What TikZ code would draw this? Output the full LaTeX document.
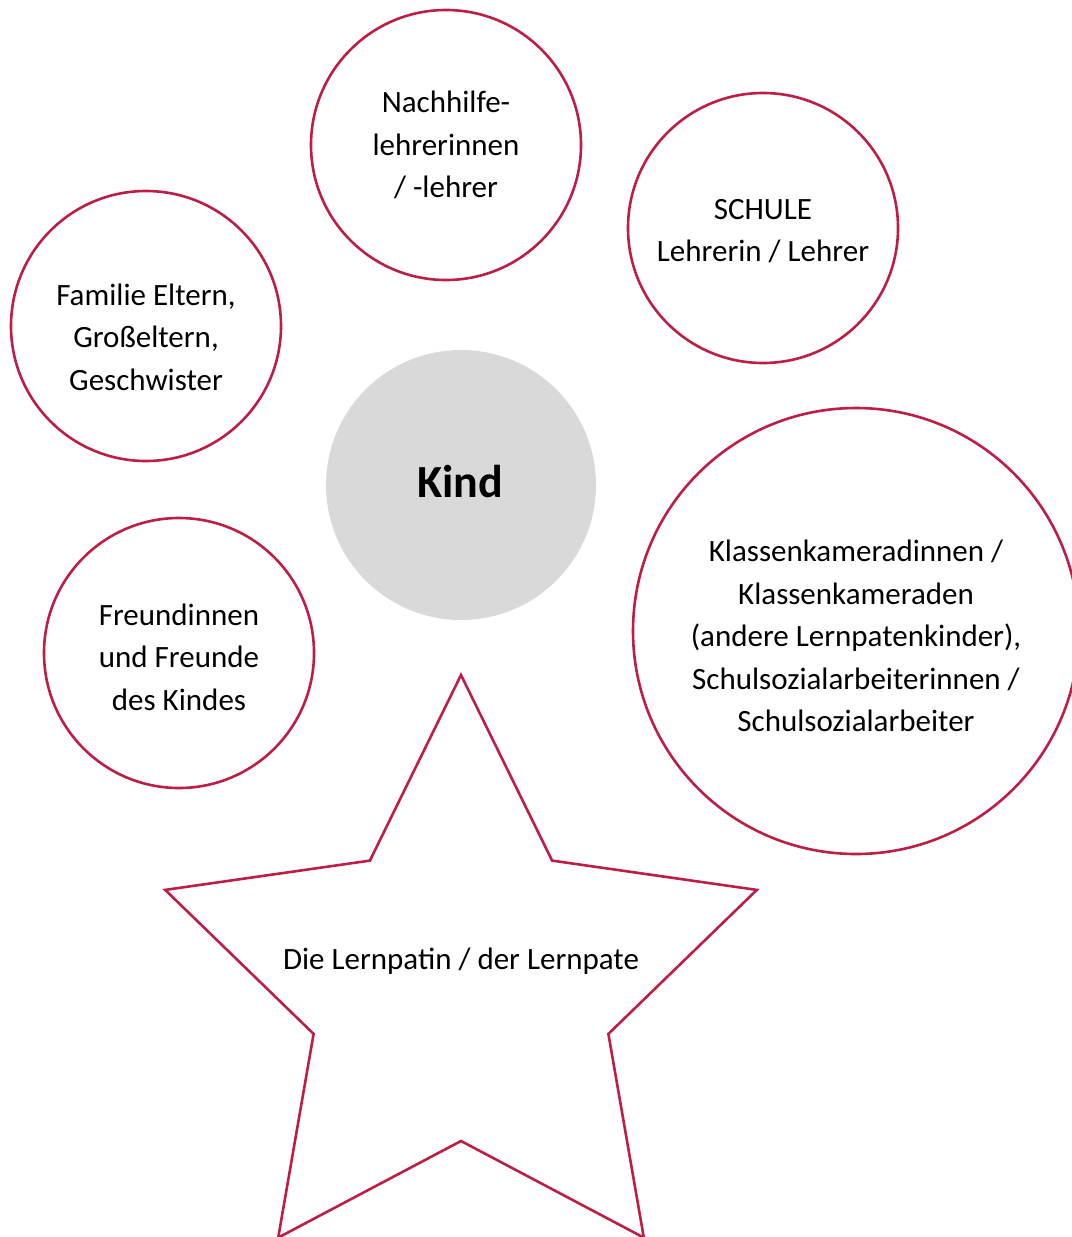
\documentclass[tikz,border=0pt]{standalone}
\usepackage{fontspec}
\setmainfont{Carlito}
\definecolor{crim}{RGB}{190,30,70}
\definecolor{kindgray}{RGB}{217,217,217}
\begin{document}
\begin{tikzpicture}[x=1pt,y=-1pt,
  ring/.style={circle,draw=crim,line width=2.6pt,inner sep=0pt,minimum size=#1},
  lbl/.style={align=center,inner sep=0pt,font=\fontsize{31}{42.5}\selectfont},
]
\useasboundingbox (0,0) rectangle (1071,1237);
\node[ring=270pt] (nach) at (446,145) {};
\node[ring=270pt] (schule) at (763,228) {};
\node[ring=270pt] (fam) at (146,326) {};
\node[ring=270pt,fill=kindgray,draw=none] (kind) at (461,485) {};
\node[ring=270pt] (freund) at (179,653) {};
\node[ring=446pt] (klass) at (856,631) {};
\draw[crim,line width=2.6pt,line join=miter]
  (461,675) -- (552.1,860.6) -- (756.8,889.9) -- (608.4,1033.9) -- (643.8,1237.6)
  -- (461,1141) -- (278.2,1237.6) -- (313.6,1033.9) -- (165.2,889.9) -- (369.9,860.6) -- cycle;
\node[lbl] (tnach) at (446,145) {Nachhilfe-\\lehrerinnen\\/ -lehrer};
\node[lbl] (tschule) at (763,231) {SCHULE\\Lehrerin / Lehrer};
\node[lbl] (tfam) at (146,337) {Familie Eltern,\\Großeltern,\\Geschwister};
\node[inner sep=0pt,font=\fontsize{46}{50}\selectfont\bfseries] (tkind) at (460,482) {Kind};
\node[lbl] (tfreund) at (179,657) {Freundinnen\\und Freunde\\des Kindes};
\node[lbl] (tklass) at (856,636) {Klassenkameradinnen /\\Klassenkameraden\\(andere Lernpatenkinder),\\Schulsozialarbeiterinnen /\\Schulsozialarbeiter};
\node[lbl] (tstar) at (461,961) {Die Lernpatin / der Lernpate};
\end{tikzpicture}
\end{document}
